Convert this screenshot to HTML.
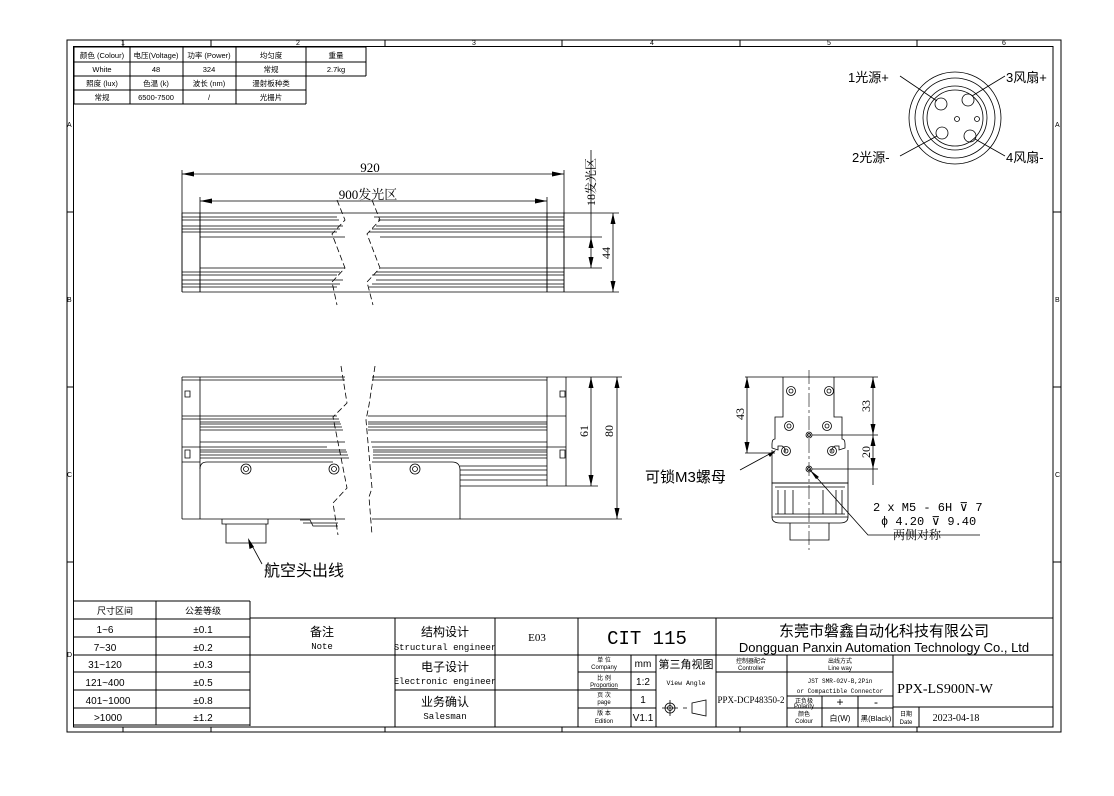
<!DOCTYPE html>
<html><head><meta charset="utf-8"><style>
html,body{margin:0;padding:0;background:#fff;}
svg{display:block;}
text{font-family:"Liberation Sans","Noto Sans CJK SC",sans-serif;fill:#000;}
.s{font-family:"Liberation Serif","Noto Serif CJK SC","Noto Sans CJK SC",serif;}
.m{font-family:"Liberation Mono","Noto Sans CJK SC",monospace;}
</style></head><body>
<svg width="1114" height="796" viewBox="0 0 1114 796" xmlns="http://www.w3.org/2000/svg">
<rect width="1114" height="796" fill="#fff"/>
<g fill="none" stroke="#000" stroke-width="1">
<rect x="67" y="40" width="994" height="692"/>
<rect x="73.5" y="46.5" width="979.5" height="680.5"/>
<path d="M211 40v6M385 40v6M562 40v6M740 40v6M917 40v6M211 727v5M385 727v5M562 727v5M740 727v5M917 727v5M123 40v6M123 727v5"/>
<path d="M67 212h6M67 387h6M67 562h6M1053 212h8M1053 387h8M1053 562h8"/>
</g>
<g font-size="7">
<text x="121" y="45">1</text><text x="296" y="45">2</text><text x="472" y="45">3</text><text x="650" y="45">4</text><text x="827" y="45">5</text><text x="1002" y="45">6</text>
<text x="67" y="127">A</text><text x="67" y="302">B</text><text x="67" y="477">C</text><text x="67" y="657">D</text>
<text x="1055" y="127">A</text><text x="1055" y="302">B</text><text x="1055" y="477">C</text>
</g>

<g fill="none" stroke="#000" stroke-width="1">
<path d="M74 47h292M74 62h292M74 76h292M74 90h232M74 104h232M366 47v29M306 47v57M236 47v57M183 47v57M130 47v57M74 47v57"/>
</g>
<g font-size="7.5" text-anchor="middle">
<text x="102" y="58">颜色 (Colour)</text><text x="156" y="58">电压(Voltage)</text><text x="209" y="58">功率 (Power)</text><text x="271" y="58">均匀度</text><text x="336" y="58">重量</text>
<text x="102" y="72">White</text><text x="156" y="72">48</text><text x="209" y="72">324</text><text x="271" y="72">常规</text><text x="336" y="72">2.7kg</text>
<text x="102" y="86">照度 (lux)</text><text x="156" y="86">色温 (k)</text><text x="209" y="86">波长 (nm)</text><text x="271" y="86">漫射板种类</text>
<text x="102" y="100">常规</text><text x="156" y="100">6500-7500</text><text x="209" y="100">/</text><text x="271" y="100">光栅片</text>
</g>

<!-- TOP VIEW -->
<g fill="none" stroke="#000" stroke-width="0.8">
<path d="M182 170v122M200 197v95M547 197v95M564 170v122"/>
<path d="M182 174h382M200 201h347"/>
<path d="M182 213h382M182 292h382M182 213v79M200 213v79M547 213v79M564 213v79"/>
<path d="M182 217h155M182 220h157M182 226h161M182 229h158M182 232h155M200 237h145M200 268h145M182 272h158M182 275h155M182 280h161M182 284h158M182 287h155"/>
<path d="M374 217h190M378 220h186M376 226h188M372 229h192M369 232h195M380 237h167M380 268h167M376 272h188M372 275h192M376 280h188M372 284h192M369 287h195"/>
<path d="M547 237h55M547 268h55M564 213h55M564 292h55"/>
<path d="M591 150v118M613 213v79"/>
</g>
<g fill="#000">
<path d="M182 174l12-2.5v5zM564 174l-12-2.5v5zM200 201l12-2.5v5zM547 201l-12-2.5v5z"/>
<path d="M591 268l-2.5-11h5zM591 237l-2.5 11h5zM613 213l-2.5 11h5zM613 292l-2.5-11h5z"/>
</g>
<g fill="none" stroke="#000" stroke-width="0.8" stroke-dasharray="6,3">
<path d="M337 200L345 220L332 234L345 268L332 282L337 305"/>
<path d="M372 200L380 220L367 234L380 268L367 282L373 305"/>
</g>
<text x="370" y="172" font-size="13" text-anchor="middle" class="s">920</text>
<text x="368" y="199" font-size="13" text-anchor="middle" class="s">900发光区</text>
<text transform="translate(595,182) rotate(-90)" font-size="12" text-anchor="middle" class="s">18发光区</text>
<text transform="translate(610,253) rotate(-90)" font-size="12" text-anchor="middle" class="s">44</text>

<!-- FRONT VIEW -->
<g fill="none" stroke="#000" stroke-width="0.8">
<path d="M182 377h163M182 380h163M182 377v142M200 377v142M182 519h163"/>
<path d="M182 416h155M182 419h157M200 422h140M200 424h141M200 427h142M200 430h143M200 442h145M182 447h145M200 450h146M200 452h147M200 455h148M200 458h149M182 462h18"/>
<path d="M207 462h126M207 462q-7 0-7 7"/>
<path d="M372 377h194M372 380h175M547 377v109M566 377v109M547 486h19"/>
<path d="M368 416h198M368 422h179M368 424h179M368 427h179M368 430h179M371 442h176M372 447h194M373 450h174M373 452h174M373 455h174M373 458h174"/>
<path d="M372 462h80q8 0 8 8v49h-88M460 466h87M460 470h87M460 475h87M460 480h87M460 486h87"/>
<path d="M185 391h5v6h-5zM185 450h5v8h-5zM560 391h5v6h-5zM560 450h5v8h-5z"/>
<circle cx="246" cy="469" r="5"/><circle cx="246" cy="469" r="2.5"/>
<circle cx="334" cy="469" r="5"/><circle cx="334" cy="469" r="2.5"/>
<circle cx="415" cy="469" r="5"/><circle cx="415" cy="469" r="2.5"/>
<path d="M222 519v5h46v-5M226 524v19h40v-19"/>
<path d="M300 520h10l3 6h25M303 523h35"/>
<path d="M566 377h56M566 486h32M460 519h162M591 377v109M617 377v142"/>
<path d="M249 540L262 564"/>
</g>
<g fill="#000">
<path d="M591 377l-2.5 11h5zM591 486l-2.5-11h5zM617 377l-2.5 11h5zM617 519l-2.5-11h5z"/>
<path d="M248 538l6 9l-4.5 2z"/>
</g>
<g fill="none" stroke="#000" stroke-width="0.8" stroke-dasharray="6,3">
<path d="M341 366L347 403L333 417L347 488L333 503L338 535"/>
<path d="M375 366L369 405L366 420L372 488L369 497L372 535"/>
</g>
<text transform="translate(588,431) rotate(-90)" font-size="12" text-anchor="middle" class="s">61</text>
<text transform="translate(613,431) rotate(-90)" font-size="12" text-anchor="middle" class="s">80</text>
<text x="264" y="576" font-size="16">航空头出线</text>

<!-- SIDE VIEW -->
<g fill="none" stroke="#000" stroke-width="0.8">
<path d="M783 377v40h-8v22q-3 0-3 5v4l6 2v-4h4q4 2 3 6M834 377v40h8v22q3 0 3 5v4l-6 2v-4h-4q-4 2-3 6"/>
<path d="M783 377h51"/>
<path d="M772 450v33h76v-33"/>
<path d="M772 483h76v34h-76zM775 487h70M778 490v24M785 490v24M793 490v24M823 490v24M836 490v24M842 490v24M775 514h70"/>
<path d="M772 517q0 6 8 6h60q8 0 8-6M790 523v17h39v-17"/>
<circle cx="791" cy="391" r="4.5"/><circle cx="791" cy="391" r="2"/>
<circle cx="829" cy="391" r="4.5"/><circle cx="829" cy="391" r="2"/>
<circle cx="789" cy="426" r="4.5"/><circle cx="789" cy="426" r="2"/>
<circle cx="827" cy="426" r="4.5"/><circle cx="827" cy="426" r="2"/>
<circle cx="786" cy="451" r="4.5"/><circle cx="786" cy="451" r="2"/>
<circle cx="832" cy="451" r="4.5"/><circle cx="832" cy="451" r="2"/>
<circle cx="809" cy="435" r="3"/><circle cx="809" cy="435" r="1.5"/>
<circle cx="809" cy="469" r="3"/><circle cx="809" cy="469" r="1.5"/>
<path d="M745 377h38M745 453h30M834 377h44M812 435h66M812 469h66M747 377v76M873 377v108"/>
<path d="M740 470L775 451M809 469L868 535H980"/>
</g>
<path d="M809 370v180" fill="none" stroke="#000" stroke-width="0.6" stroke-dasharray="14,3,3,3"/>
<g fill="#000">
<path d="M747 377l-2.5 11h5zM747 453l-2.5-11h5zM873 377l-2.5 11h5zM873 435l-2.5-11h5zM873 435l-2.5 11h5zM873 469l-2.5-11h5z"/>
<path d="M776 450l-8 4l2 3z"/>
<path d="M810 470l6 9l3-2z"/>
</g>
<text transform="translate(744,414) rotate(-90)" font-size="12" text-anchor="middle" class="s">43</text>
<text transform="translate(870,406) rotate(-90)" font-size="12" text-anchor="middle" class="s">33</text>
<text transform="translate(870,452) rotate(-90)" font-size="12" text-anchor="middle" class="s">20</text>
<text x="645" y="482" font-size="15">可锁M3螺母</text>
<text x="873" y="511" font-size="12" class="m">2 x  M5 - 6H ⊽ 7</text>
<text x="881" y="525" font-size="12" class="m">ϕ 4.20 ⊽ 9.40</text>
<text x="893" y="539" font-size="12" class="s">两侧对称</text>

<!-- CONNECTOR PINOUT -->
<g fill="none" stroke="#000" stroke-width="0.8">
<circle cx="955" cy="118" r="46"/><circle cx="955" cy="118" r="40"/><circle cx="955" cy="118" r="32"/><circle cx="955" cy="118" r="28"/>
<circle cx="941" cy="104" r="6"/><circle cx="968" cy="100" r="6"/><circle cx="942" cy="133" r="6"/><circle cx="970" cy="136" r="6"/>
<circle cx="957" cy="119" r="2.5"/><circle cx="977" cy="119" r="2.5"/>
<path d="M900 76L937 101M1005 76L972 96M900 156L937 136M1005 156L975 139"/>
</g>
<g font-size="13">
<text x="848" y="82">1光源+</text><text x="1006" y="82">3风扇+</text>
<text x="852" y="162">2光源-</text><text x="1006" y="162">4风扇-</text>
</g>

<!-- TITLE BLOCK -->
<g fill="none" stroke="#000" stroke-width="1">
<path d="M74 601h176M74 619h176M74 637h176M74 655h176M74 672h176M74 690h176M74 708h176M74 725h176M156 601v124M250 601v125"/>
<path d="M250 618h803M250 655h803M395 690h183M395 618v109M495 618v109M578 618v109M716 618v109"/>
<path d="M578 672h78M578 690h78M578 708h78M631 655v72M656 655v72"/>
<path d="M716 672h177M787 655v72M787 696h106M787 708h106M822 696v31M858 696v31M893 655v72M893 707h160M919 707v20"/>
</g>
<g text-anchor="middle">
<text x="115" y="614" font-size="9">尺寸区间</text><text x="203" y="614" font-size="9">公差等级</text>
<g font-size="10" class="s">
<text x="105" y="633">1~6</text><text x="203" y="633">±0.1</text>
<text x="105" y="651">7~30</text><text x="203" y="651">±0.2</text>
<text x="105" y="668">31~120</text><text x="203" y="668">±0.3</text>
<text x="105" y="686">121~400</text><text x="203" y="686">±0.5</text>
<text x="108" y="704">401~1000</text><text x="203" y="704">±0.8</text>
<text x="108" y="721">&gt;1000</text><text x="203" y="721">±1.2</text>
</g>
<text x="322" y="636" font-size="12">备注</text><text x="322" y="649" font-size="9" class="m">Note</text>
<text x="445" y="636" font-size="12">结构设计</text><text x="445" y="650" font-size="9" class="m">Structural engineer</text>
<text x="445" y="671" font-size="12">电子设计</text><text x="445" y="684" font-size="9" class="m">Electronic engineer</text>
<text x="445" y="706" font-size="12">业务确认</text><text x="445" y="719" font-size="9" class="m">Salesman</text>
<text x="537" y="641" font-size="11" class="s">E03</text>
<text x="647" y="644" font-size="19" class="m">CIT 115</text>
<text x="884" y="636" font-size="15">东莞市磐鑫自动化科技有限公司</text>
<text x="884" y="652" font-size="13">Dongguan Panxin Automation Technology Co., Ltd</text>
<g font-size="6">
<text x="604" y="662">单 位</text><text x="604" y="669">Company</text>
<text x="604" y="680">比 例</text><text x="604" y="687" text-decoration="underline">Proportion</text>
<text x="604" y="697">页 次</text><text x="604" y="704">page</text>
<text x="604" y="715">版 本</text><text x="604" y="723">Edition</text>
<text x="751" y="663">控制器配合</text><text x="751" y="670">Controller</text>
<text x="840" y="663">出线方式</text><text x="840" y="670">Line way</text>
<text x="840" y="683" class="m">JST SMR-02V-B,2Pin</text><text x="840" y="693" class="m">or Compactible Connector</text>
<text x="804" y="703">正负极</text><text x="804" y="708">Polarity</text>
<text x="804" y="716">颜色</text><text x="804" y="723">Colour</text>
<text x="906" y="716">日期</text><text x="906" y="724">Date</text>
</g>
<g font-size="10" class="s">
<text x="643" y="667">mm</text><text x="643" y="685">1:2</text><text x="643" y="703">1</text><text x="643" y="721">V1.1</text>
</g>
<text x="686" y="668" font-size="11">第三角视图</text>
<text x="686" y="685" font-size="6.5" class="m">View Angle</text>
<text x="751" y="703" font-size="9" class="s">PPX-DCP48350-2</text>
<text x="840" y="706" font-size="12">+</text><text x="876" y="706" font-size="12">-</text>
<text x="840" y="721" font-size="8">白(W)</text><text x="876" y="721" font-size="7.5">黑(Black)</text>
<text x="945" y="693" font-size="14" class="s">PPX-LS900N-W</text>
<text x="956" y="721" font-size="10" class="s">2023-04-18</text>
</g>
<g fill="none" stroke="#000" stroke-width="0.8">
<circle cx="670" cy="708" r="5"/><circle cx="670" cy="708" r="2.5"/><path d="M662 708h16M670 700v16M683 708h4M692 703l14-3v16l-14-3z"/>
</g>
</svg>
</body></html>
